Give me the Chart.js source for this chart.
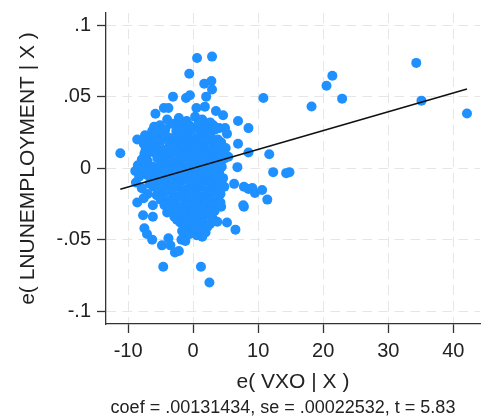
<!DOCTYPE html>
<html>
<head>
<meta charset="utf-8">
<script src="https://cdn.jsdelivr.net/npm/chart.js@4/dist/chart.umd.min.js"></script>
<style>
html,body{margin:0;padding:0;background:#fff;}
canvas{display:block;}
</style>
</head>
<body>
<canvas id="c" width="501" height="418"></canvas>
<script>
// residuals e(VXO | X)
const vxoResid = [
-11.2,-8.6,-7.4,-7.1,-6.3,-5.1,-5.8,-4.5,-3.8,-3.1,-3.5,-1.1,-0.5,-0.6,0.6,2.9,1.7,2.8,2.9,2.0,
0.5,1.8,3.5,4.6,6.9,8.5,5.2,6.9,8.5,10.8,11.7,6.8,5.4,12.3,14.3,14.8,6.3,7.8,8.5,9.5,
10.6,11.4,7.8,4.2,4.3,3.7,5.2,6.5,-8.6,-7.7,-6.2,-7.5,-7.1,-6.3,-4.8,-3.8,-3.5,-2.8,-2.2,-1.8,
-1.2,-4.6,1.2,2.5,1.4,1.5,1.1,-0.8,-0.5,-2.5,-4.0,-6.2,34.3,35.1,42.1,21.4,20.5,22.9,18.2,9.1,
7.7,-1.2,-1.7,-1.2,-2.3,4.9,
-4.0,-2.2,-1.0,0.3,1.4,2.6,
-6.0,-3.0,-2.0,-0.6,0.8,2.0,3.1,4.0,
-5.2,-4.3,-2.6,-1.5,-0.2,1.1,2.3,3.4,
-6.8,-5.6,-4.0,-3.1,-1.9,-0.8,0.4,1.6,2.7,3.8,
-7.6,-6.2,-5.0,-3.6,-2.5,-1.3,-0.1,1.0,2.1,3.2,4.3,
-7.3,-6.8,-5.6,-4.4,-3.1,-1.8,-0.7,0.5,1.7,2.8,3.9,5.0,
-7.5,-6.0,-4.9,-3.8,-2.6,-1.4,-0.2,1.0,2.2,3.3,4.4,
-7.9,-7.0,-5.5,-4.3,-3.2,-2.0,-0.8,0.4,1.5,2.7,3.8,4.9,
-8.5,-7.3,-6.2,-5.0,-3.7,-2.5,-1.3,-0.1,1.1,2.2,3.3,4.4,
-8.9,-7.6,-6.5,-5.3,-4.1,-3.0,-1.8,-0.6,0.6,1.7,2.9,4.0,
-8.3,-7.0,-5.8,-4.6,-3.5,-2.3,-1.1,0.1,1.2,2.4,3.5,4.6,
-8.8,-6.7,-5.4,-4.2,-3.0,-1.8,-0.5,0.7,1.9,3.0,4.1,
-7.9,-6.1,-4.8,-3.6,-2.4,-1.2,0.0,1.3,2.5,3.7,4.8,
-7.0,-5.6,-4.4,-3.1,-1.9,-0.6,0.6,1.8,3.0,4.2,
-7.6,-5.0,-3.8,-2.6,-1.3,-0.1,1.2,2.4,3.6,
-4.4,-3.1,-2.0,-0.7,0.5,1.7,2.9,3.9,
-3.6,-2.4,-1.1,0.0,1.1,2.3,3.3,
-2.9,-1.6,-0.3,0.8,1.9,3.0,
-2.0,-0.9,0.3,1.6,2.6,
-0.2,0.9,2.2,
-0.5,0.6,1.9
];
// residuals e(LNUNEMPLOYMENT | X)
const unempResid = [
0.0104,0.020,0.023,0.0097,0.026,0.030,0.038,0.042,0.042,0.050,0.031,0.049,0.051,0.066,0.077,0.078,0.059,0.061,0.055,0.050,
0.042,0.043,0.040,0.037,0.033,0.028,0.024,0.017,0.011,0.049,0.0097,0.0007,0.008,-0.0028,-0.0035,-0.0028,-0.011,-0.013,-0.0146,-0.0174,
-0.0153,-0.022,-0.027,-0.024,-0.027,-0.0375,-0.038,-0.043,-0.024,-0.033,-0.034,-0.042,-0.046,-0.050,-0.054,-0.049,-0.054,-0.059,-0.058,-0.050,
-0.0465,-0.069,-0.069,-0.080,-0.048,-0.044,-0.038,-0.041,-0.036,-0.036,-0.031,-0.026,0.0736,0.0472,0.0382,0.0646,0.0576,0.0486,0.0431,-0.0139,
-0.026,-0.033,-0.044,-0.051,-0.035,0.028,
0.034,0.035,0.033,0.036,0.034,0.032,
0.029,0.031,0.029,0.030,0.031,0.029,0.030,0.028,
0.025,0.027,0.026,0.025,0.027,0.026,0.025,0.027,
0.021,0.023,0.022,0.021,0.023,0.022,0.021,0.023,0.022,0.020,
0.017,0.018,0.019,0.017,0.018,0.019,0.017,0.018,0.019,0.017,0.018,
0.013,0.015,0.014,0.013,0.015,0.014,0.013,0.015,0.014,0.013,0.015,0.014,
0.010,0.011,0.009,0.010,0.011,0.009,0.010,0.011,0.009,0.010,0.011,
0.006,0.005,0.007,0.006,0.005,0.007,0.006,0.005,0.007,0.006,0.005,0.007,
0.002,0.003,0.001,0.002,0.003,0.001,0.002,0.003,0.001,0.002,0.003,0.001,
-0.002,-0.001,-0.003,-0.002,-0.001,-0.003,-0.002,-0.001,-0.003,-0.002,-0.001,-0.003,
-0.006,-0.005,-0.007,-0.006,-0.005,-0.007,-0.006,-0.005,-0.007,-0.006,-0.005,-0.007,
-0.010,-0.011,-0.009,-0.010,-0.011,-0.009,-0.010,-0.011,-0.009,-0.010,-0.011,
-0.014,-0.013,-0.015,-0.014,-0.013,-0.015,-0.014,-0.013,-0.015,-0.014,-0.013,
-0.018,-0.019,-0.017,-0.018,-0.019,-0.017,-0.018,-0.019,-0.017,-0.018,
-0.021,-0.022,-0.023,-0.021,-0.022,-0.023,-0.021,-0.022,-0.023,
-0.026,-0.025,-0.027,-0.026,-0.025,-0.027,-0.026,-0.025,
-0.030,-0.029,-0.031,-0.030,-0.029,-0.031,-0.030,
-0.034,-0.033,-0.035,-0.034,-0.033,-0.035,
-0.038,-0.039,-0.037,-0.038,-0.039,
-0.042,-0.043,-0.041,
-0.046,-0.047,-0.045
];
const xTickValues = [-10, 0, 10, 20, 30, 40];
const xTickLabels = ['-10', '0', '10', '20', '30', '40'];
const yTickValues = [0.1, 0.05, 0, -0.05, -0.1];
const yTickLabels = ['.1', '.05', '0', '-.05', '-.1'];
const coef = 0.00131434;
const noteText = 'coef = .00131434, se = .00022532, t = 5.83';
const xTitle = 'e( VXO | X )';
const yTitle = 'e( LNUNEMPLOYMENT | X )';

const FONT = '"Liberation Sans", Arial, Helvetica, sans-serif';
const scatterData = vxoResid.map((x, i) => ({x: x, y: unempResid[i]}));
const xMin = Math.min(...vxoResid), xMax = Math.max(...vxoResid);
const fitData = [{x: xMin, y: coef * xMin}, {x: xMax, y: coef * xMax}];

const notePlugin = {
  id: 'note',
  afterDraw(chart) {
    const ctx = chart.ctx;
    ctx.save();
    ctx.font = '18px ' + FONT;
    ctx.fillStyle = '#222';
    ctx.textAlign = 'center';
    ctx.textBaseline = 'middle';
    ctx.fillText(noteText, 283, 408);
    ctx.restore();
  }
};

function labelFrom(values, labels) {
  return function(v) {
    const i = values.findIndex(t => Math.abs(t - v) < 1e-9);
    return i >= 0 ? labels[i] : '';
  };
}

new Chart(document.getElementById('c'), {
  type: 'scatter',
  data: {
    datasets: [
      {
        type: 'line',
        data: fitData,
        borderColor: '#111',
        borderWidth: 1.6,
        pointRadius: 0,
        fill: false,
        order: 0
      },
      {
        data: scatterData,
        backgroundColor: 'rgb(30,144,255)',
        borderWidth: 0,
        pointRadius: 5,
        order: 1
      }
    ]
  },
  options: {
    responsive: false,
    animation: false,
    events: [],
    layout: {padding: {top: 13, right: 21, left: 0, bottom: 0}},
    plugins: {legend: {display: false}, tooltip: {enabled: false}},
    scales: {
      x: {
        type: 'linear',
        min: -13.4,
        max: 44.1,
        afterBuildTicks: s => { s.ticks = xTickValues.map(v => ({value: v})); },
        afterFit: s => { s.height = 94; s.paddingLeft = 0; s.paddingRight = 0; },
        ticks: {
          callback: labelFrom(xTickValues, xTickLabels),
          font: {family: FONT, size: 20},
          color: '#222',
          padding: 6,
          maxRotation: 0
        },
        grid: {
          color: '#e6e6e6',
          lineWidth: 1,
          tickLength: 9,
          tickColor: '#333',
          tickWidth: 1.3,
          tickBorderDash: []
        },
        border: {display: true, color: '#333', width: 1.3, dash: [10, 6]},
        title: {
          display: true,
          text: xTitle,
          font: {family: FONT, size: 21},
          color: '#222',
          padding: {top: 0, bottom: 23}
        }
      },
      y: {
        type: 'linear',
        min: -0.109,
        max: 0.1085,
        afterBuildTicks: s => { s.ticks = yTickValues.map(v => ({value: v})); },
        afterFit: s => { s.width = 106; s.paddingTop = 0; s.paddingBottom = 0; },
        ticks: {
          callback: labelFrom(yTickValues, yTickLabels),
          font: {family: FONT, size: 20},
          color: '#222',
          padding: 6
        },
        grid: {
          color: '#e6e6e6',
          lineWidth: 1,
          tickLength: 9,
          tickColor: '#333',
          tickWidth: 1.3,
          tickBorderDash: []
        },
        border: {display: true, color: '#333', width: 1.3, dash: [10, 6]},
        title: {
          display: true,
          text: yTitle,
          font: {family: FONT, size: 21},
          color: '#222',
          padding: {top: 16, bottom: 0}
        }
      }
    }
  },
  plugins: [notePlugin]
});
</script>
</body>
</html>
